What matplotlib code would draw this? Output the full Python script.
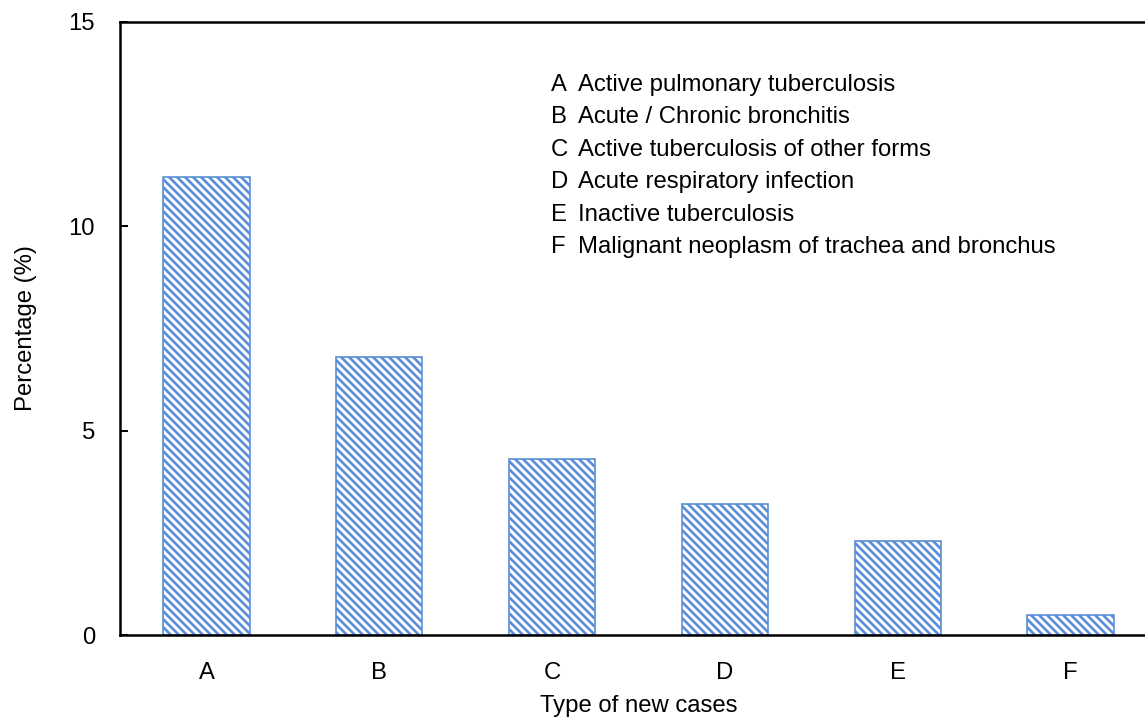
import matplotlib
matplotlib.use("Agg")
import matplotlib.pyplot as plt

# Daten
case_types = ['A', 'B', 'C', 'D', 'E', 'F']
percentages = [11.2, 6.8, 4.3, 3.2, 2.3, 0.5]
descriptions = ['Active pulmonary tuberculosis',
                'Acute / Chronic bronchitis',
                'Active tuberculosis of other forms',
                'Acute respiratory infection',
                'Inactive tuberculosis',
                'Malignant neoplasm of trachea and bronchus']
y_ticks = [0, 5, 10, 15]

plt.rcParams['font.family'] = ['Liberation Sans', 'DejaVu Sans']
plt.rcParams['hatch.linewidth'] = 1.6
plt.rcParams['hatch.color'] = '#5B8ED8'

dpi = 120
fs = 14.3
fig = plt.figure(figsize=(1145 / dpi, 720 / dpi), dpi=dpi)
# Achse rechts bewusst über den Bildrand hinaus (wie im Original)
ax = fig.add_axes([120 / 1145, 85 / 720, 1037 / 1145, 613 / 720])

x = list(range(len(case_types)))
ax.bar(x, percentages, width=0.5, facecolor='white', edgecolor='#5B8ED8',
       hatch='\\' * 5, linewidth=1.0)

ax.set_xlim(-0.5, 5.5)
ax.set_ylim(0, 15)
ax.set_yticks(y_ticks)
ax.set_xticks(x)
ax.set_xticklabels(case_types)

ax.spines['right'].set_visible(False)
for side in ['left', 'bottom', 'top']:
    ax.spines[side].set_linewidth(1.5)
    ax.spines[side].set_color('black')

ax.tick_params(axis='y', direction='in', length=5, width=1.2,
               labelsize=fs, pad=15)
ax.tick_params(axis='x', length=0, labelsize=fs, pad=16)

ax.set_xlabel('Type of new cases', fontsize=fs, labelpad=7)
ax.set_ylabel('Percentage (%)', fontsize=fs, labelpad=19)

# Legende als Text
for i, (letter, desc) in enumerate(zip(case_types, descriptions)):
    ypos = 85 + i * 32.4
    fig.text(551 / 1145, 1 - ypos / 720, letter, fontsize=fs,
             va='center', ha='left')
    fig.text(578 / 1145, 1 - ypos / 720, desc, fontsize=fs,
             va='center', ha='left')

fig.savefig('out.png', dpi=dpi)
